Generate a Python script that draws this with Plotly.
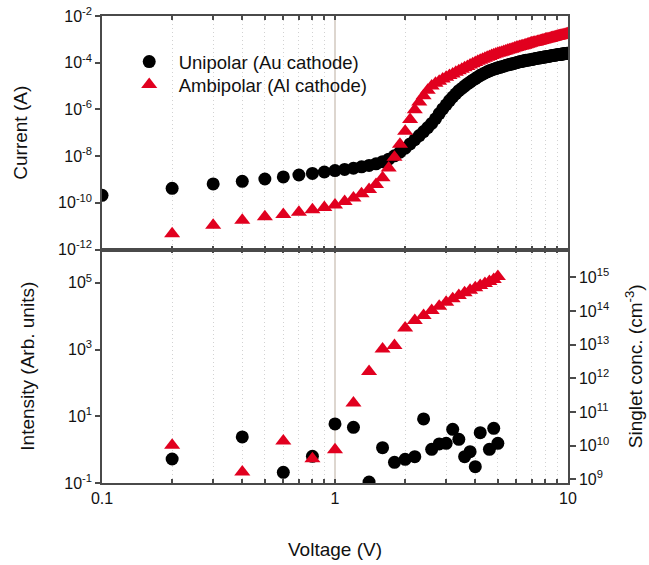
import plotly.graph_objects as go

# ---------------- data ----------------
# Top panel: current vs voltage, voltages 0.1 ... 10.0 V in 0.1 V steps
iv_voltage = [round(0.1 * k, 1) for k in range(1, 101)]

# log10(current / A) for the unipolar (Au cathode) device
unipolar_log_current = [
    -9.68, -9.38, -9.19, -9.08, -8.98, -8.89, -8.81, -8.74, -8.68, -8.62,
    -8.57, -8.52, -8.46, -8.40, -8.33, -8.24, -8.13, -7.99, -7.83, -7.66,
    -7.48, -7.30, -7.12, -6.95, -6.78, -6.60, -6.40, -6.18, -5.98, -5.80,
    -5.62, -5.47, -5.33, -5.20, -5.10, -5.00, -4.91, -4.83, -4.75, -4.68,
    -4.61, -4.54, -4.49, -4.44, -4.39, -4.35, -4.31, -4.28, -4.25, -4.22,
    -4.20, -4.17, -4.15, -4.12, -4.10, -4.08, -4.06, -4.04, -4.02, -4.00,
    -3.98, -3.96, -3.95, -3.93, -3.92, -3.90, -3.89, -3.88, -3.87, -3.86,
    -3.85, -3.83, -3.82, -3.81, -3.80, -3.79, -3.78, -3.77, -3.76, -3.75,
    -3.74, -3.73, -3.72, -3.71, -3.70, -3.69, -3.68, -3.68, -3.67, -3.66,
    -3.65, -3.65, -3.64, -3.63, -3.63, -3.62, -3.61, -3.61, -3.60, -3.60,
]

# log10(current / A) for the ambipolar (Al cathode) device (0.1 V is off-scale)
ambipolar_log_current = [
    None, -11.33, -10.96, -10.75, -10.60, -10.50, -10.41, -10.30, -10.20, -10.09,
    -9.94, -9.79, -9.61, -9.43, -9.22, -8.93, -8.51, -8.05, -7.49, -6.94,
    -6.43, -6.02, -5.68, -5.42, -5.18, -5.00, -4.88, -4.79, -4.70, -4.62,
    -4.55, -4.48, -4.41, -4.34, -4.28, -4.22, -4.16, -4.10, -4.04, -3.99,
    -3.94, -3.89, -3.85, -3.81, -3.77, -3.73, -3.69, -3.66, -3.63, -3.60,
    -3.57, -3.55, -3.52, -3.50, -3.47, -3.45, -3.42, -3.40, -3.37, -3.35,
    -3.33, -3.31, -3.29, -3.27, -3.25, -3.23, -3.21, -3.19, -3.17, -3.15,
    -3.14, -3.12, -3.11, -3.09, -3.08, -3.06, -3.05, -3.03, -3.02, -3.00,
    -2.99, -2.97, -2.96, -2.95, -2.93, -2.92, -2.91, -2.89, -2.88, -2.87,
    -2.86, -2.85, -2.83, -2.82, -2.81, -2.80, -2.79, -2.78, -2.76, -2.75,
]

# Bottom panel: emission intensity, voltages 0.2 ... 5.0 V in 0.2 V steps
el_voltage = [round(0.2 * k, 1) for k in range(1, 26)]

unipolar_log_intensity = [
    -0.28, 0.38, -0.68, -0.20, 0.77, 0.67, -0.97, 0.06, -0.38, -0.29,
    -0.21, 0.92, 0.01, 0.17, 0.19, 0.61, 0.31, -0.21, -0.06, -0.51,
    0.51, None, 0.01, 0.64, 0.19,
]

ambipolar_log_intensity = [
    0.13, -0.67, 0.26, -0.27, 0.00, 1.40, 2.34, 3.02, 3.12, 3.65,
    3.87, 4.02, 4.17, 4.30, 4.42, 4.52, 4.62, 4.70, 4.78, 4.85,
    4.92, 4.98, 5.04, 5.10, 5.19,
]

series_names = ["Unipolar (Au cathode)", "Ambipolar (Al cathode)"]

current_tick_exp = [-12, -10, -8, -6, -4, -2]
intensity_tick_exp = [-1, 1, 3, 5]
singlet_tick_exp = [9, 10, 11, 12, 13, 14, 15]
x_major_ticks = [0.1, 1, 10]
x_major_labels = ["0.1", "1", "10"]
x_minor_ticks = [0.2, 0.3, 0.4, 0.5, 0.6, 0.7, 0.8, 0.9, 2, 3, 4, 5, 6, 7, 8, 9]


def delog(vals):
    return [None if v is None else 10 ** v for v in vals]


def pow_labels(exps):
    return [f"10<sup>{e}</sup>" for e in exps]


# ---------------- styling ----------------
FONT = "Liberation Sans, Arial, sans-serif"
BLACK = "#000000"
RED = "#e1001f"
AXIS = "#4a4a4a"

fig = go.Figure()

# top panel traces (each in its own legend box so rows sit exactly)
fig.add_trace(go.Scatter(
    x=iv_voltage, y=delog(unipolar_log_current), mode="markers",
    name=series_names[0], xaxis="x2", yaxis="y2", legend="legend",
    marker=dict(symbol="circle", size=13, color=BLACK),
))
fig.add_trace(go.Scatter(
    x=iv_voltage, y=delog(ambipolar_log_current), mode="markers",
    name=series_names[1], xaxis="x2", yaxis="y2", legend="legend2",
    marker=dict(symbol="triangle-up", size=14, color=RED),
))
# bottom panel traces
fig.add_trace(go.Scatter(
    x=el_voltage, y=delog(unipolar_log_intensity), mode="markers",
    name=series_names[0], xaxis="x", yaxis="y", showlegend=False,
    marker=dict(symbol="circle", size=13, color=BLACK),
))
fig.add_trace(go.Scatter(
    x=el_voltage, y=delog(ambipolar_log_intensity), mode="markers",
    name=series_names[1], xaxis="x", yaxis="y", showlegend=False,
    marker=dict(symbol="triangle-up", size=14, color=RED),
))
# empty trace so that the right-hand (singlet concentration) axis is drawn
fig.add_trace(go.Scatter(
    x=[], y=[], xaxis="x", yaxis="y3", showlegend=False, hoverinfo="skip",
))

tickfont = dict(family=FONT, size=16, color="#111")
titlefont = dict(family=FONT, size=19, color="#111")

xcommon = dict(
    type="log", range=[-1, 1],
    tickvals=x_major_ticks, ticktext=x_major_labels,
    ticks="inside", ticklen=4, tickcolor=AXIS, tickwidth=1.5,
    showline=True, linecolor=AXIS, linewidth=1.5, mirror="ticks",
    showgrid=True, gridcolor="#ddd6cf", gridwidth=2,
    zeroline=False, automargin=False, ticklabeloverflow="allow",
    minor=dict(tickvals=x_minor_ticks, ticks="inside", ticklen=4,
               tickcolor=AXIS, tickwidth=1.5,
               showgrid=True, gridcolor="#d2d2d2", griddash="1px,3px", gridwidth=1),
    tickfont=tickfont,
)

legend_common = dict(
    xanchor="left", yanchor="top", bgcolor="rgba(0,0,0,0)",
    font=dict(family=FONT, size=18.5, color="#111"), itemwidth=49,
)

fig.update_layout(
    width=649, height=565,
    margin=dict(l=102, r=81, t=16, b=82),
    paper_bgcolor="white", plot_bgcolor="white",
    font=dict(family=FONT, color="#111"),
    showlegend=True,
    legend=dict(x=0.038, y=0.942, **legend_common),
    legend2=dict(x=0.038, y=0.893, **legend_common),
    xaxis=dict(
        **xcommon, anchor="y", domain=[0, 1],
        title=dict(text="Voltage (V)", font=titlefont, standoff=37),
    ),
    xaxis2=dict(
        **xcommon, anchor="y2", matches="x", showticklabels=False,
    ),
    yaxis=dict(
        type="log", range=[-1, 6], domain=[0, 0.5], anchor="x",
        tickvals=delog(intensity_tick_exp), ticktext=pow_labels(intensity_tick_exp),
        ticks="outside", ticklen=5, tickcolor=AXIS, tickwidth=1.5,
        showline=True, linecolor=AXIS, linewidth=1.5, automargin=False,
        ticklabeloverflow="allow",
        showgrid=False, zeroline=False, tickfont=tickfont,
        title=dict(text="Intensity (Arb. units)", font=titlefont, standoff=25),
    ),
    yaxis2=dict(
        type="log", range=[-12, -2], domain=[0.5, 1], anchor="x2",
        tickvals=delog(current_tick_exp), ticktext=pow_labels(current_tick_exp),
        ticks="outside", ticklen=5, tickcolor=AXIS, tickwidth=1.5,
        showline=True, linecolor=AXIS, linewidth=1.5, mirror=True, automargin=False,
        ticklabeloverflow="allow",
        showgrid=False, zeroline=False, tickfont=tickfont,
        title=dict(text="Current (A)", font=titlefont, standoff=25),
    ),
    yaxis3=dict(
        type="log", range=[8.89, 15.83], overlaying="y", side="right", anchor="x",
        tickvals=delog(singlet_tick_exp), ticktext=pow_labels(singlet_tick_exp),
        ticks="outside", ticklen=6, tickcolor=AXIS, tickwidth=1.5,
        showline=True, linecolor=AXIS, linewidth=1.5, automargin=False,
        ticklabeloverflow="allow",
        showgrid=False, zeroline=False, tickfont=tickfont,
        title=dict(text="Singlet conc. (cm<sup>-3</sup>)", font=titlefont, standoff=20),
    ),
)

# remove the default 8 px page margin so the figure fills the window exactly
fig.write_html(
    "out.html",
    config={"displayModeBar": False},
    post_script="document.body.style.margin='0';",
)
